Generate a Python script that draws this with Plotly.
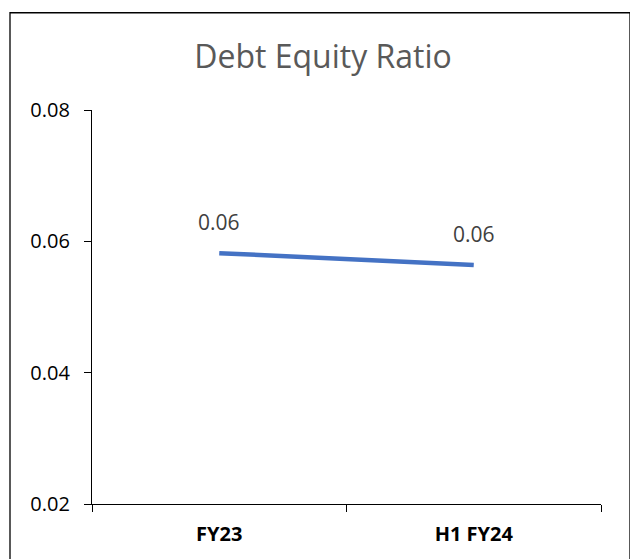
import plotly.graph_objects as go

categories = ["FY23", "H1 FY24"]
values = [0.0582, 0.0564]
labels = ["0.06", "0.06"]
y_ticks = [0.02, 0.04, 0.06, 0.08]
y_tick_text = ["0.02", "0.04", "0.06", "0.08"]

FONT = "Open Sans"
W, H = 630, 551
L, T, PW, PH = 84, 102, 509, 397

fig = go.Figure()
fig.add_trace(go.Scatter(
    x=categories, y=values, mode="lines",
    line=dict(color="#4472C4", width=4.5),
    hoverinfo="skip", showlegend=False,
))

for c, v, t in zip(categories, values, labels):
    fig.add_annotation(x=c, y=v, text=t, showarrow=False, yshift=31,
                       font=dict(family=FONT, size=21, color="#404040"))

fig.update_layout(
    width=W, height=H,
    margin=dict(l=L, r=W - L - PW, t=T, b=H - T - PH),
    paper_bgcolor="white", plot_bgcolor="white",
    title=dict(text="Debt Equity Ratio", x=0.5, xanchor="center",
               y=1 - 49 / H, yanchor="middle",
               font=dict(family=FONT, size=32, color="#595959")),
    xaxis=dict(type="category", range=[-0.5, 1.5], showgrid=False,
               showline=True, linecolor="black", linewidth=1.3,
               ticks="outside", tickson="boundaries", ticklen=7,
               tickcolor="black", tickwidth=1.3, ticklabelstandoff=12,
               tickfont=dict(family=FONT, size=20, color="black", weight="bold")),
    yaxis=dict(range=[0.02, 0.08], tickvals=y_ticks, ticktext=y_tick_text,
               showgrid=False, zeroline=False, showline=True,
               linecolor="black", linewidth=1.3, ticks="outside", ticklen=7,
               tickcolor="black", tickwidth=1.3, ticklabelstandoff=10,
               tickfont=dict(family=FONT, size=20, color="black")),
    shapes=[dict(type="rect", xref="paper", yref="paper",
                 x0=(2 - L) / PW, x1=(622 - L) / PW,
                 y0=-0.3, y1=(T + PH - 4) / PH,
                 line=dict(color="black", width=1.3), fillcolor="rgba(0,0,0,0)",
                 layer="below")],
)

fig.write_html("out.html")
